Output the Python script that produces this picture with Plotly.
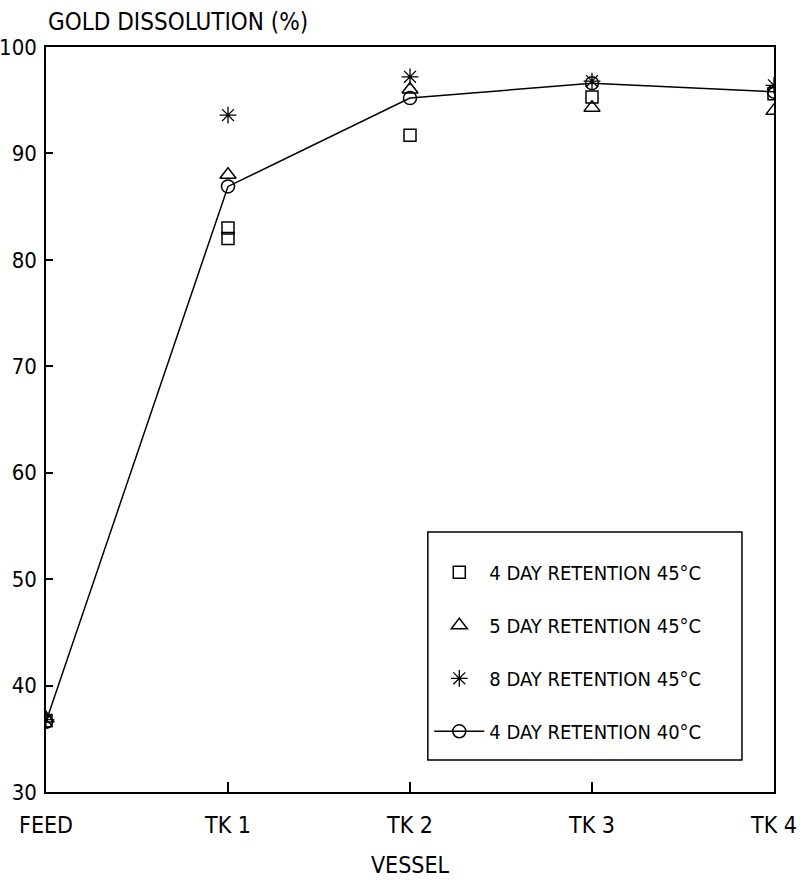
import plotly.graph_objects as go

categories = ["FEED", "TK 1", "TK 2", "TK 3", "TK 4"]
y_ticks = [30, 40, 50, 60, 70, 80, 90, 100]

# 4 day retention 45C (two readings at TK 1)
sq_x = ["FEED", "TK 1", "TK 1", "TK 2", "TK 3", "TK 4"]
sq_y = [36.7, 83.0, 82.0, 91.7, 95.3, 95.6]
# 5 day retention 45C
tri_x = ["FEED", "TK 1", "TK 2", "TK 3", "TK 4"]
tri_y = [36.9, 88.0, 96.0, 94.3, 94.0]
# 8 day retention 45C
star_x = ["FEED", "TK 1", "TK 2", "TK 3", "TK 4"]
star_y = [36.8, 93.6, 97.2, 96.8, 96.4]
# 4 day retention 40C (connected)
circ_x = ["FEED", "TK 1", "TK 2", "TK 3", "TK 4"]
circ_y = [36.6, 86.9, 95.2, 96.6, 95.8]

FONT = "DejaVu Sans Condensed, Liberation Sans, Arial, sans-serif"

fig = go.Figure()
fig.add_trace(go.Scatter(x=sq_x, y=sq_y, mode="markers", name="4 DAY RETENTION 45°C",
                         legendgroup="a",
                         marker=dict(symbol="square-open", size=12, color="black", line=dict(width=1.5))))
fig.add_trace(go.Scatter(x=tri_x, y=tri_y, mode="markers", name="5 DAY RETENTION 45°C",
                         legendgroup="b",
                         marker=dict(symbol="triangle-up-open", size=14, color="black", line=dict(width=1.5))))
fig.add_trace(go.Scatter(x=star_x, y=star_y, mode="markers", name="8 DAY RETENTION 45°C",
                         legendgroup="c",
                         marker=dict(symbol="asterisk-open", size=14, color="black", line=dict(width=1.3))))
fig.add_trace(go.Scatter(x=circ_x, y=circ_y, mode="lines+markers", name="4 DAY RETENTION 40°C",
                         legendgroup="d",
                         line=dict(color="black", width=1.5),
                         marker=dict(symbol="circle-open", size=13, color="black", line=dict(width=1.5))))

fig.update_layout(
    width=800, height=886,
    margin=dict(l=46, r=26, t=47, b=94),
    paper_bgcolor="white", plot_bgcolor="white",
    font=dict(family=FONT, color="black", size=22),
    showlegend=True,
    legend=dict(x=0.5265, y=0.349, xanchor="left", yanchor="top",
                bgcolor="rgba(0,0,0,0)", borderwidth=0,
                font=dict(size=20, family=FONT), tracegroupgap=24,
                itemwidth=50,
                title=dict(text=" ", font=dict(size=16))),
    shapes=[dict(type="rect", xref="paper", yref="paper",
                 x0=0.5245, x1=0.956, y0=0.043, y1=0.349,
                 line=dict(color="black", width=1.5), fillcolor="white",
                 layer="above")],
    xaxis=dict(type="category", categoryorder="array", categoryarray=categories,
               range=[0, 4], tickvals=categories, ticks="inside", ticklen=10,
               tickcolor="black", tickwidth=1.5, showgrid=False, zeroline=False,
               showline=True, linecolor="black", linewidth=1.5, mirror=True,
               automargin=False,
               ticklabelstandoff=12, tickfont=dict(size=23),
               title=dict(text="VESSEL", font=dict(size=23), standoff=20)),
    yaxis=dict(range=[30, 100], tickvals=y_ticks, ticks="inside", ticklen=7,
               tickcolor="black", tickwidth=1.5, showgrid=False, zeroline=False,
               showline=True, linecolor="black", linewidth=1.5, mirror=True,
               automargin=False,
               tickfont=dict(size=22), ticklabelstandoff=3),
    annotations=[dict(text="GOLD DISSOLUTION (%)", xref="paper", yref="paper",
                      x=0, y=1.034, xanchor="left", yanchor="middle",
                      showarrow=False, font=dict(size=24, family=FONT))],
)

fig.write_html("out.html")
